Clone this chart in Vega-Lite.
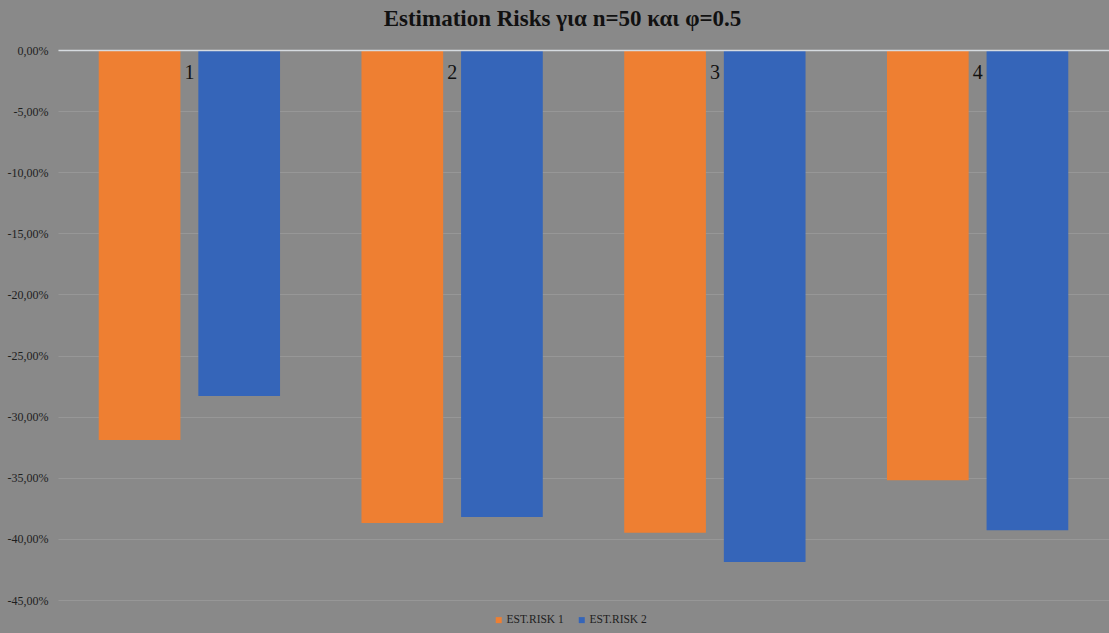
{
  "$schema": "https://vega.github.io/schema/vega-lite/v6.json",
  "autosize": {"type": "none"},
  "width": 1051,
  "height": 550,
  "padding": {"left": 58, "top": 50, "right": 0, "bottom": 33},
  "background": "#898989",
  "title": {
    "text": "Estimation Risks για n=50 και φ=0.5",
    "font": "Liberation Serif",
    "fontSize": 23,
    "fontWeight": "bold",
    "color": "#111111",
    "anchor": "middle",
    "dx": -21,
    "offset": 13
  },
  "data": {
    "values": [
      {"cat": "1", "series": "EST.RISK 1", "value": -0.319},
      {"cat": "1", "series": "EST.RISK 2", "value": -0.283},
      {"cat": "2", "series": "EST.RISK 1", "value": -0.387},
      {"cat": "2", "series": "EST.RISK 2", "value": -0.382},
      {"cat": "3", "series": "EST.RISK 1", "value": -0.395},
      {"cat": "3", "series": "EST.RISK 2", "value": -0.419},
      {"cat": "4", "series": "EST.RISK 1", "value": -0.352},
      {"cat": "4", "series": "EST.RISK 2", "value": -0.393}
    ]
  },
  "mark": {"type": "bar"},
  "encoding": {
    "x": {
      "field": "cat",
      "type": "nominal",
      "scale": {"paddingInner": 0.31, "paddingOuter": 0.155},
      "axis": {
        "orient": "top",
        "title": null,
        "domain": true,
        "domainColor": "#d6dbe0",
        "domainWidth": 1.5,
        "ticks": false,
        "tickSize": 0,
        "labelAngle": 0,
        "labelPadding": -32,
        "labelBaseline": "bottom",
        "labelFont": "Liberation Serif",
        "labelFontSize": 20,
        "labelColor": "#111111",
        "grid": false,
        "zindex": 1
      }
    },
    "xOffset": {
      "field": "series",
      "type": "nominal",
      "scale": {"paddingInner": 0.18, "paddingOuter": 0}
    },
    "y": {
      "field": "value",
      "type": "quantitative",
      "scale": {"domain": [-0.45, 0], "nice": false, "zero": true},
      "axis": {
        "title": null,
        "values": [0, -0.05, -0.1, -0.15, -0.2, -0.25, -0.3, -0.35, -0.4, -0.45],
        "format": ".2%",
        "domain": false,
        "ticks": false,
        "labelPadding": 10,
        "labelFont": "Liberation Serif",
        "labelFontSize": 12,
        "labelColor": "#1e1e1e",
        "grid": true,
        "gridColor": "#979797",
        "gridWidth": 1
      }
    },
    "color": {
      "field": "series",
      "type": "nominal",
      "scale": {"domain": ["EST.RISK 1", "EST.RISK 2"], "range": ["#ee7f32", "#3565b9"]},
      "legend": {
        "title": null,
        "orient": "none",
        "direction": "horizontal",
        "legendX": 435,
        "legendY": 564,
        "symbolType": "square",
        "symbolSize": 36,
        "symbolStrokeWidth": 0,
        "labelFont": "Liberation Serif",
        "labelFontSize": 11.5,
        "labelColor": "#1e1e1e",
        "labelOffset": 2,
        "columnPadding": 12
      }
    }
  },
  "config": {
    "locale": {
      "number": {"decimal": ",", "thousands": ".", "grouping": [3], "currency": ["", "€"], "minus": "-"}
    },
    "view": {"stroke": null}
  }
}
